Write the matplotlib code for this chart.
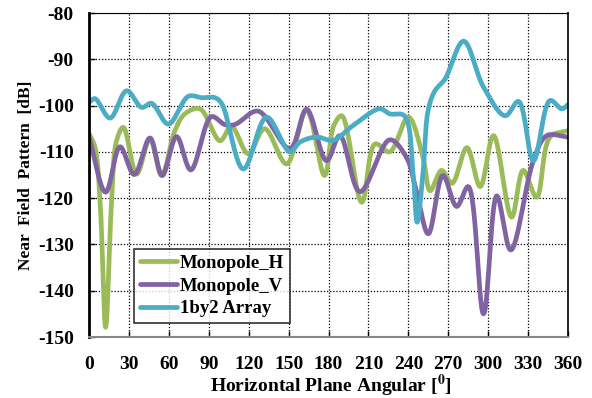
import numpy as np
import matplotlib
matplotlib.use("Agg")
import matplotlib.pyplot as plt

# ---- data (angle in degrees, level in dB) ----
h_deg = [0, 4.5, 8.3, 12.5, 17, 20.7, 25.8, 35.8, 45.8, 54.5, 64.6, 72, 83.3, 98.5, 107,
         119.7, 132, 148.5, 163.5, 177, 184, 190, 205, 215, 226, 240, 251, 256.4, 265, 272.8,
         284, 294, 304, 317.6, 326.3, 336.4, 346.5, 360]
h_val = [-106, -109, -120.5, -147.9, -120.5, -107.6, -104.7, -114.8, -107.2, -115.1, -105.4,
         -101.8, -100.7, -107.6, -104.5, -110.4, -105, -112.6, -101, -115.1, -104.3, -102.2,
         -120.9, -108.3, -110, -102.5, -111.2, -118.4, -114, -116.8, -109.1, -117.5, -106.5,
         -124.1, -114, -119.8, -106.8, -105.4]

v_deg = [0, 12.5, 23.3, 34, 45.8, 55, 65.8, 76.5, 92, 102, 109.6, 127, 151, 163.5, 178.5,
         188.5, 203.6, 226, 238.6, 246, 255, 266, 276.3, 285, 296.5, 306.5, 317, 334, 344, 360]
v_val = [-106.8, -118.7, -108.9, -114.9, -107, -115.1, -106.7, -113.9, -102.4, -104.1,
         -104.1, -101.2, -109.3, -100.8, -111.9, -106.5, -118.6, -107.4, -111.2, -118.4,
         -127.7, -115.1, -121.8, -117.5, -145, -119.5, -131.2, -111.9, -106.5, -106.8]

a_deg = [0, 4.5, 15.8, 28.3, 39.6, 47, 59.6, 74.7, 84.7, 94.7, 99.8, 116, 133.5, 151, 158.5,
         171, 183.5, 198.5, 218.5, 226, 237, 243.6, 246.6, 251, 254.9, 260, 267.5, 281.5,
         296.5, 312.8, 322.8, 334, 346.5, 355.3, 360]
a_val = [-99.3, -98.5, -102.7, -96.8, -100.4, -99.5, -104, -98, -98.3, -98.3, -99.6, -113.7,
         -102.5, -110, -107.9, -106.8, -107.5, -104.3, -100.7, -101.8, -102.2, -114.7, -125.2,
         -114.7, -101, -96.8, -94.3, -86.1, -96, -102.2, -99.1, -111.9, -98.9, -100.7, -99.8]

series_names = ["Monopole_H", "Monopole_V", "1by2 Array"]
colors = ["#9BBB59", "#8064A2", "#4BACC6"]
x_ticks = list(range(0, 361, 30))
y_ticks = list(range(-150, -79, 10))


def smooth(xs, ys, n=30, alpha=0.5):
    """Centripetal Catmull-Rom curve through the data points (like a smoothed line)."""
    P = np.column_stack([xs, ys]).astype(float)
    P = np.vstack([2 * P[0] - P[1], P, 2 * P[-1] - P[-2]])
    out = []
    for i in range(1, len(P) - 2):
        p0, p1, p2, p3 = P[i - 1], P[i], P[i + 1], P[i + 2]
        t0 = 0.0
        t1 = t0 + max(np.linalg.norm(p1 - p0), 1e-6) ** alpha
        t2 = t1 + max(np.linalg.norm(p2 - p1), 1e-6) ** alpha
        t3 = t2 + max(np.linalg.norm(p3 - p2), 1e-6) ** alpha
        t = np.linspace(t1, t2, n)[:, None]
        A1 = (t1 - t) / (t1 - t0) * p0 + (t - t0) / (t1 - t0) * p1
        A2 = (t2 - t) / (t2 - t1) * p1 + (t - t1) / (t2 - t1) * p2
        A3 = (t3 - t) / (t3 - t2) * p2 + (t - t2) / (t3 - t2) * p3
        B1 = (t2 - t) / (t2 - t0) * A1 + (t - t0) / (t2 - t0) * A2
        B2 = (t3 - t) / (t3 - t1) * A2 + (t - t1) / (t3 - t1) * A3
        C = (t2 - t) / (t2 - t1) * B1 + (t - t1) / (t2 - t1) * B2
        out.append(C if i == 1 else C[1:])
    C = np.vstack(out)
    return C[:, 0], C[:, 1]


plt.rcParams['font.family'] = ['Liberation Serif', 'DejaVu Serif']
plt.rcParams['font.weight'] = 'bold'
plt.rcParams['mathtext.fontset'] = 'stix'
plt.rcParams['axes.unicode_minus'] = False

fig = plt.figure(figsize=(5.92, 3.98), dpi=100)
ax = fig.add_axes([89 / 592, 1 - 337 / 398, (568 - 89) / 592, (337 - 13) / 398])

# pixel-space scaling so the smoothing works on the on-screen shape
sx = (568 - 89) / 360.0
sy = (337 - 13) / 70.0
for xs, ys, name, c in zip([h_deg, v_deg, a_deg], [h_val, v_val, a_val], series_names, colors):
    px = np.array(xs) * sx
    py = np.array(ys) * sy
    cx, cy = smooth(px, py)
    ax.plot(cx / sx, cy / sy, color=c, lw=3.4, label=name, solid_capstyle='round',
            solid_joinstyle='round')

ax.set_xlim(0, 360)
ax.set_ylim(-150, -80)
ax.set_xticks(x_ticks)
ax.set_yticks(y_ticks)
ax.tick_params(axis='both', direction='in', length=4, width=1, labelsize=14)
ax.tick_params(axis='y', pad=11)
ax.tick_params(axis='x', pad=14)
for lab in ax.get_xticklabels() + ax.get_yticklabels():
    lab.set_fontweight('bold')
ax.grid(True, color='black', linestyle=(0, (1, 1.5)), linewidth=0.9)

for side in ['left', 'right', 'top']:
    ax.spines[side].set_color('black')
ax.spines['left'].set_linewidth(2)
ax.spines['right'].set_linewidth(1.2)
ax.spines['top'].set_linewidth(0.8)
ax.spines['bottom'].set_color('#888888')
ax.spines['bottom'].set_linewidth(1.5)

fig.text(331 / 592, 1 - 386 / 398, r'Horizontal Plane Angular [$\mathbf{^{0}}$]',
         fontsize=14, fontweight='bold', ha='center', va='center')
ax.set_ylabel('Near  Field  Pattern  [dB]', fontsize=12.5, fontweight='bold', labelpad=3)

leg = ax.legend(loc='lower left', bbox_to_anchor=((134 - 89) / 479, (337 - 323) / 324),
                fontsize=13.5, frameon=True, fancybox=False, handlelength=2.0,
                borderpad=0.3, labelspacing=0.3, handletextpad=0.15, borderaxespad=0)
leg.get_frame().set_edgecolor('black')
leg.get_frame().set_linewidth(1.2)
for t in leg.get_texts():
    t.set_fontweight('bold')

fig.savefig('out.png', dpi=100)
